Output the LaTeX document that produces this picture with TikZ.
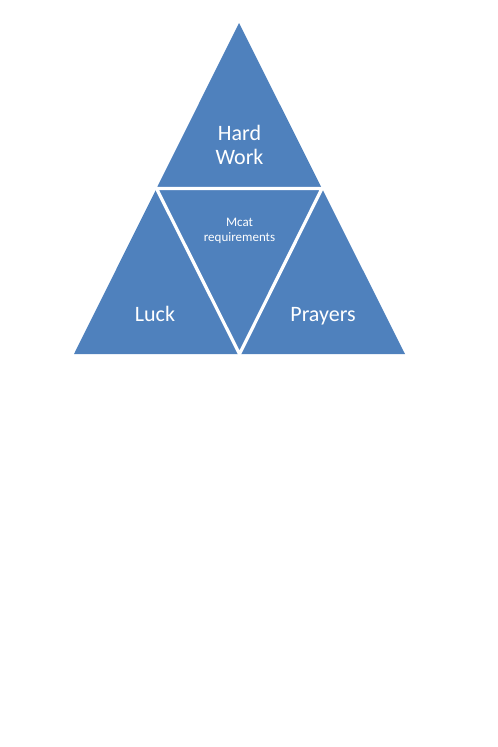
\documentclass[tikz,border=0pt]{standalone}
\usepackage{fontspec}
\setmainfont{Carlito}
\usepackage{tikz}
\usetikzlibrary{calc}

\definecolor{pyrblue}{HTML}{4F81BD}

\tikzset{
  piece/.style={fill=pyrblue},
  gap/.style={draw=white,line width=3.2pt,line join=miter},
  biglabel/.style={text=white,align=center,font=\fontsize{22}{24}\selectfont},
  smalllabel/.style={text=white,align=center,font=\fontsize{13}{15}\selectfont}
}

\begin{document}
\begin{tikzpicture}[x=1pt,y=-1pt]
    \useasboundingbox (0,0) rectangle (498,747);
    \coordinate (apex) at (239,23);
    \coordinate (bl) at (74,354);
    \coordinate (br) at (405,354);
    \coordinate (ml) at ($ (apex)!0.5!(bl) $);
    \coordinate (mr) at ($ (apex)!0.5!(br) $);
    \coordinate (mb) at ($ (bl)!0.5!(br) $);

    \fill [piece] (apex) -- (bl) -- (br) -- cycle;
    \draw [gap] (ml) -- (mr) -- (mb) -- cycle;

    \node [biglabel] (hard) at (239.5,145) {Hard\\Work};
    \node [biglabel,anchor=base] (luck) at (155,321) {Luck};
    \node [biglabel,anchor=base] (prayers) at (323,321) {Prayers};
    \node [smalllabel] (mcat) at (239.5,231) {Mcat\\requirements};
\end{tikzpicture}
\end{document}
